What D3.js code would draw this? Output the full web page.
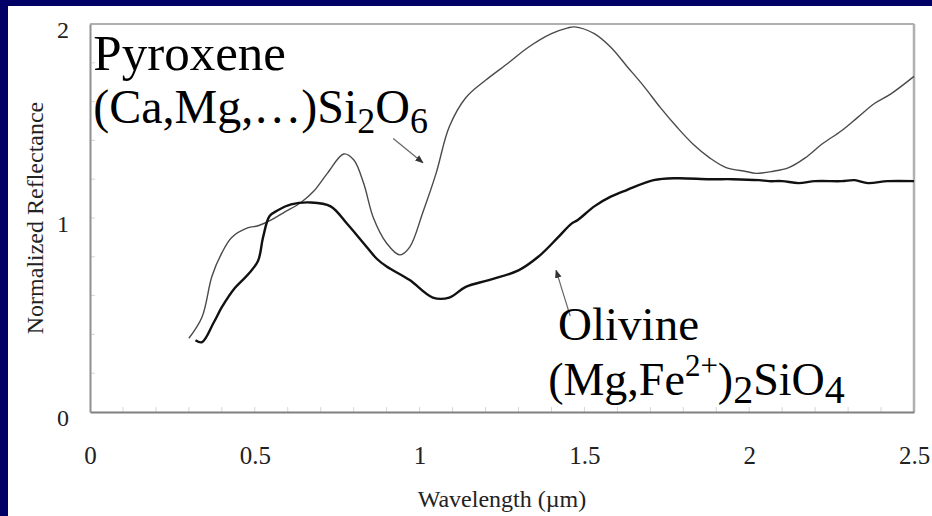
<!DOCTYPE html>
<html>
<head>
<meta charset="utf-8">
<script src="https://cdn.jsdelivr.net/npm/d3@7"></script>
<style>
  html, body { margin: 0; padding: 0; background: #000066; }
  svg { display: block; }
  text { font-family: "Liberation Serif", "Times New Roman", serif; }
</style>
</head>
<body>
<div id="chart"></div>
<script>
// wavelength (µm) and normalized reflectance
const pyroxeneWavelength = [0.30, 0.34, 0.37, 0.40, 0.43, 0.48, 0.51, 0.55, 0.59, 0.64, 0.68, 0.72, 0.77, 0.80, 0.83, 0.86, 0.90, 0.94, 0.97, 1.01, 1.05, 1.09, 1.14, 1.20, 1.27, 1.33, 1.40, 1.45, 1.47, 1.53, 1.58, 1.63, 1.68, 1.73, 1.78, 1.83, 1.88, 1.93, 1.99, 2.02, 2.07, 2.12, 2.17, 2.22, 2.28, 2.33, 2.38, 2.43, 2.50];
const pyroxeneReflectance = [0.38, 0.49, 0.70, 0.82, 0.90, 0.95, 0.96, 0.99, 1.03, 1.08, 1.14, 1.23, 1.33, 1.30, 1.18, 1.00, 0.87, 0.81, 0.85, 1.03, 1.23, 1.47, 1.62, 1.71, 1.80, 1.88, 1.95, 1.98, 1.985, 1.95, 1.88, 1.78, 1.68, 1.57, 1.47, 1.38, 1.31, 1.26, 1.24, 1.23, 1.24, 1.26, 1.31, 1.38, 1.45, 1.52, 1.59, 1.64, 1.73];

const olivineWavelength = [0.32, 0.34, 0.375, 0.40, 0.44, 0.48, 0.51, 0.525, 0.545, 0.57, 0.61, 0.67, 0.73, 0.78, 0.83, 0.87, 0.90, 0.97, 1.04, 1.09, 1.14, 1.21, 1.30, 1.36, 1.42, 1.46, 1.48, 1.53, 1.58, 1.63, 1.71, 1.78, 1.88, 1.95, 2.03, 2.06, 2.10, 2.15, 2.20, 2.28, 2.32, 2.36, 2.42, 2.50];
const olivineReflectance = [0.37, 0.36, 0.46, 0.54, 0.64, 0.71, 0.78, 0.90, 1.01, 1.04, 1.07, 1.08, 1.06, 0.97, 0.87, 0.79, 0.75, 0.68, 0.59, 0.59, 0.645, 0.68, 0.73, 0.80, 0.90, 0.97, 0.99, 1.06, 1.11, 1.145, 1.195, 1.205, 1.20, 1.20, 1.195, 1.19, 1.19, 1.18, 1.19, 1.19, 1.195, 1.18, 1.19, 1.19];

const xTicks = [0, 0.5, 1, 1.5, 2, 2.5];
const yTicks = [0, 1, 2];

const width = 932, height = 516;
const plot = { left: 90, right: 914, top: 24, bottom: 412 };

const svg = d3.select("#chart")
  .append("svg")
  .attr("width", width)
  .attr("height", height);

// navy slide frame with white panel
svg.append("rect").attr("width", width).attr("height", height).style("fill", "#000066");
svg.append("rect")
  .attr("x", 8).attr("y", 6)
  .attr("width", width - 8).attr("height", height - 6)
  .style("fill", "#ffffff");

const x = d3.scaleLinear().domain([0, 2.5]).range([plot.left, plot.right]);
const y = d3.scaleLinear().domain([0, 2]).range([plot.bottom, plot.top]);

// faint minor ticks inside the plot
svg.append("g")
  .selectAll("line")
  .data(d3.range(1, 25).map(i => i / 10))
  .join("line")
  .attr("x1", d => x(d)).attr("x2", d => x(d))
  .attr("y1", plot.bottom).attr("y2", plot.bottom - 5)
  .style("stroke", "#d6d6d6");

svg.append("g")
  .selectAll("line")
  .data(d3.range(1, 10).map(i => i / 5))
  .join("line")
  .attr("x1", plot.left).attr("x2", plot.left + 5)
  .attr("y1", d => y(d)).attr("y2", d => y(d))
  .style("stroke", "#d6d6d6");

// frame: top and right lighter
svg.append("line")
  .attr("x1", plot.left).attr("x2", plot.right)
  .attr("y1", plot.top).attr("y2", plot.top)
  .style("stroke", "#b0b0b0").style("stroke-width", 2);
svg.append("line")
  .attr("x1", plot.right).attr("x2", plot.right)
  .attr("y1", plot.top).attr("y2", plot.bottom)
  .style("stroke", "#b0b0b0").style("stroke-width", 2.5);

// axes
const xAxis = svg.append("g")
  .attr("transform", `translate(0, ${plot.bottom})`)
  .call(d3.axisBottom(x).tickValues(xTicks).tickFormat(d3.format("~g")).tickSize(0).tickPadding(34));
xAxis.select(".domain").style("stroke", "#808080").style("stroke-width", 2);
xAxis.selectAll("text")
  .style("font-size", "25px")
  .style("fill", "#222");

const yAxis = svg.append("g")
  .attr("transform", `translate(${plot.left}, 0)`)
  .call(d3.axisLeft(y).tickValues(yTicks).tickFormat(d3.format("~g")).tickSize(0).tickPadding(21));
yAxis.select(".domain").style("stroke", "#909090").style("stroke-width", 2);
yAxis.selectAll("text")
  .attr("dy", "0.55em")
  .style("font-size", "24px")
  .style("fill", "#222");

// axis titles
svg.append("text")
  .attr("x", (plot.left + plot.right) / 2)
  .attr("y", 507)
  .attr("text-anchor", "middle")
  .style("font-size", "24px")
  .style("fill", "#222")
  .text("Wavelength (µm)");

svg.append("text")
  .attr("transform", `translate(43, ${(plot.top + plot.bottom) / 2}) rotate(-90)`)
  .attr("text-anchor", "middle")
  .style("font-size", "24px")
  .style("fill", "#222")
  .text("Normalized Reflectance");

// curves
const line = d3.line()
  .curve(d3.curveCatmullRom.alpha(0.5))
  .x(d => x(d[0]))
  .y(d => y(d[1]));

svg.append("path")
  .datum(d3.zip(pyroxeneWavelength, pyroxeneReflectance))
  .attr("d", line)
  .style("fill", "none")
  .style("stroke", "#4a4a4a")
  .style("stroke-width", 1.4)
  .style("stroke-linejoin", "round");

svg.append("path")
  .datum(d3.zip(olivineWavelength, olivineReflectance))
  .attr("d", line)
  .style("fill", "none")
  .style("stroke", "#111")
  .style("stroke-width", 2.4)
  .style("stroke-linejoin", "round");

// arrows
svg.append("defs").append("marker")
  .attr("id", "head")
  .attr("viewBox", "0 0 10 10")
  .attr("refX", 9).attr("refY", 5)
  .attr("markerWidth", 7).attr("markerHeight", 7)
  .attr("orient", "auto")
  .append("path")
  .attr("d", "M0,1 L10,5 L0,9 Z")
  .style("fill", "#333");

const arrows = [
  { from: [0.92, 1.41], to: [1.01, 1.285] },
  { from: [1.457, 0.495], to: [1.414, 0.73] }
];
svg.append("g")
  .selectAll("line")
  .data(arrows)
  .join("line")
  .attr("x1", d => x(d.from[0])).attr("y1", d => y(d.from[1]))
  .attr("x2", d => x(d.to[0])).attr("y2", d => y(d.to[1]))
  .style("stroke", "#666")
  .style("stroke-width", 1.2)
  .attr("marker-end", "url(#head)");

// mineral labels
svg.append("text")
  .attr("x", x(0.01)).attr("y", y(1.763))
  .style("font-size", "51px")
  .text("Pyroxene");

const pyx = svg.append("text")
  .attr("x", x(0.01)).attr("y", y(1.49))
  .style("font-size", "48px");
pyx.append("tspan").text("(Ca,Mg,…)Si");
pyx.append("tspan").attr("dy", 10).style("font-size", "36px").text("2");
pyx.append("tspan").attr("dy", -10).text("O");
pyx.append("tspan").attr("dy", 10).style("font-size", "36px").text("6");

svg.append("text")
  .attr("x", x(1.42)).attr("y", y(0.371))
  .style("font-size", "47px")
  .text("Olivine");

const ol = svg.append("text")
  .attr("x", x(1.39)).attr("y", y(0.088))
  .style("font-size", "46px");
ol.append("tspan").text("(Mg,Fe");
ol.append("tspan").attr("dy", -19).style("font-size", "31px").text("2+");
ol.append("tspan").attr("dy", 19).text(")");
ol.append("tspan").attr("dy", 8).style("font-size", "40px").text("2");
ol.append("tspan").attr("dy", -8).text("SiO");
ol.append("tspan").attr("dy", 8).style("font-size", "40px").text("4");
</script>
</body>
</html>
